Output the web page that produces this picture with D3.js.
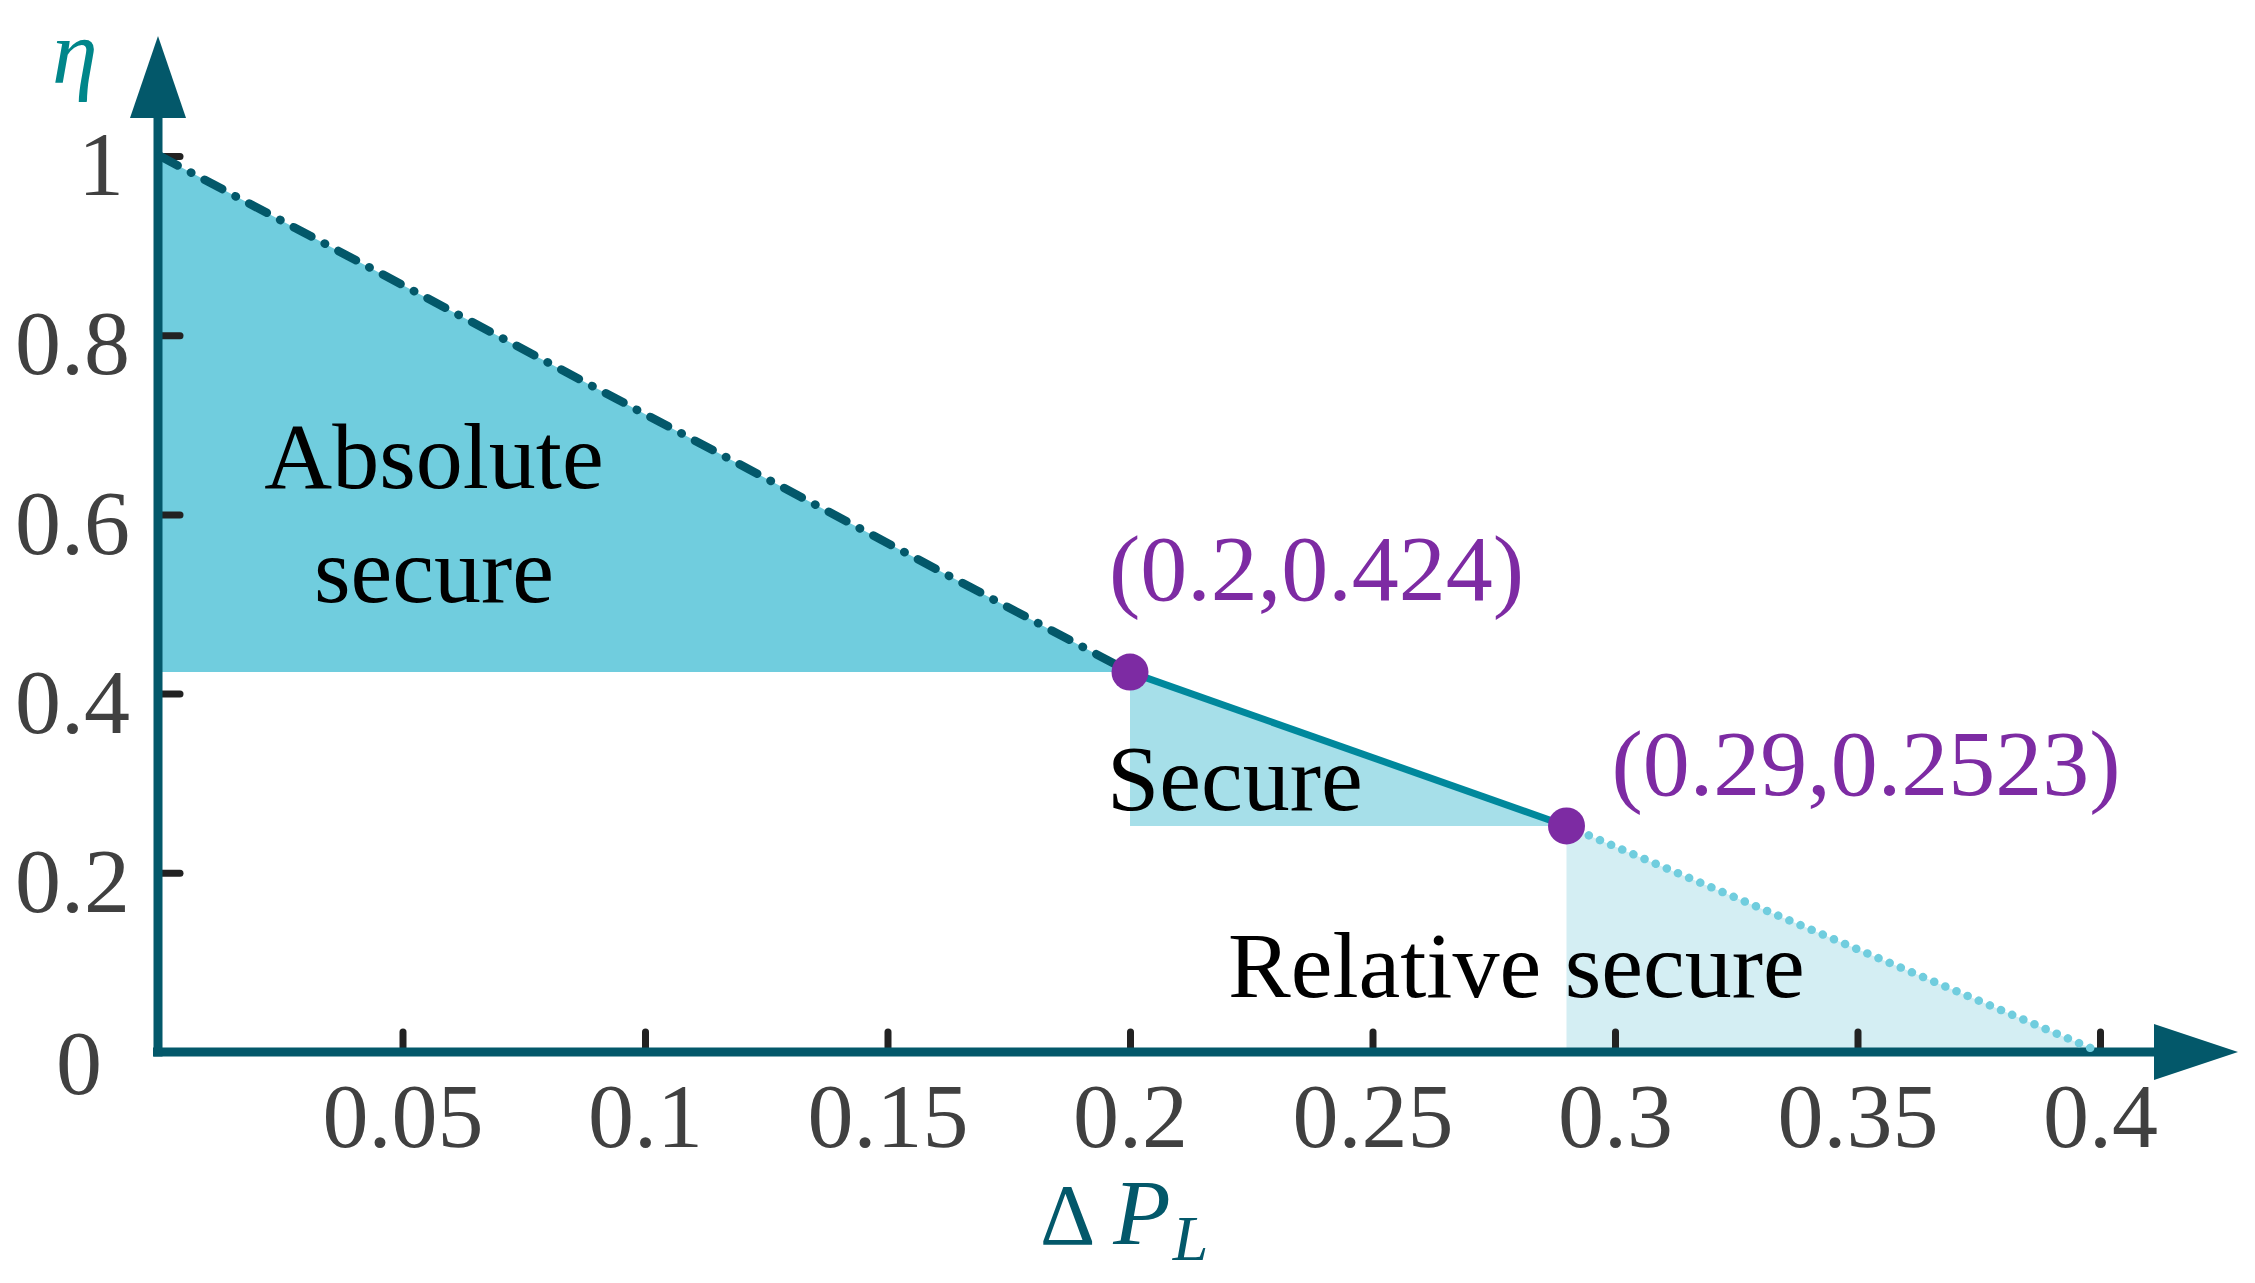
<!DOCTYPE html>
<html>
<head>
<meta charset="utf-8">
<script src="https://cdn.jsdelivr.net/npm/d3@7"></script>
<style>
  html, body { margin: 0; padding: 0; background: #ffffff; }
  svg { display: block; }
  text { font-family: "Liberation Serif", "Times New Roman", serif; }
</style>
</head>
<body>
<svg id="chart" width="2255" height="1283"></svg>
<script>
// ---- data ----
const xTickValues = [0.05, 0.1, 0.15, 0.2, 0.25, 0.3, 0.35, 0.4];
const xTickLabels = ["0.05", "0.1", "0.15", "0.2", "0.25", "0.3", "0.35", "0.4"];
const yTickValues = [0, 0.2, 0.4, 0.6, 0.8, 1];
const yTickLabels = ["0", "0.2", "0.4", "0.6", "0.8", "1"];
const boundaryX = [0, 0.2, 0.29, 0.4];
const boundaryY = [1, 0.424, 0.2523, 0];
const regionNames = ["Absolute secure", "Secure", "Relative secure"];
const keyPointLabels = ["(0.2,0.424)", "(0.29,0.2523)"];

// ---- styles ----
const W = 2255, H = 1283;
const axisColor = "#03586A";
const tickColor = "#222222";
const labelColor = "#404040";
const regionFill = ["#70CDDE", "#A6DFE9", "#D4EEF3"];
const lineColor = ["#03586A", "#00889C", "#70CDDE"];
const pointColor = "#7D2BA3";

const svg = d3.select("#chart");
svg.append("rect").attr("width", W).attr("height", H).attr("fill", "#fff");

const x = d3.scaleLinear().domain([0, 0.4]).range([160, 2100]);
const y = d3.scaleLinear().domain([0, 1]).range([1052, 156]);

const pts = boundaryX.map((bx, i) => [bx, boundaryY[i]]);

// ---- region fills ----
const area = d3.line().x(d => x(d[0])).y(d => y(d[1]));
const regionPolys = [
  [pts[0], pts[1], [boundaryX[0], boundaryY[1]]],
  [pts[1], pts[2], [boundaryX[1], boundaryY[2]]],
  [pts[2], pts[3], [boundaryX[2], boundaryY[3]]]
];
svg.append("g").selectAll("path").data(regionPolys).join("path")
  .attr("d", d => area(d) + "Z")
  .attr("fill", (d, i) => regionFill[i]);

// ---- axes ----
const xAxis = d3.axisBottom(x).tickValues(xTickValues)
  .tickFormat((d, i) => xTickLabels[i]).tickSize(-20).tickPadding(30);
const gx = svg.append("g").attr("transform", `translate(0,${y(0)})`).call(xAxis);
gx.select(".domain").remove();
gx.selectAll(".tick line").attr("stroke", tickColor).attr("stroke-width", 7)
  .attr("stroke-linecap", "round");
gx.selectAll(".tick text").attr("fill", labelColor).attr("font-size", 92)
  .attr("font-family", "Liberation Serif, Times New Roman, serif");

const yAxis = d3.axisLeft(y).tickValues(yTickValues)
  .tickFormat((d, i) => yTickLabels[i]).tickSize(-22).tickPadding(28);
const gy = svg.append("g").attr("transform", `translate(158,0)`).call(yAxis);
gy.select(".domain").remove();
gy.selectAll(".tick line").attr("stroke", tickColor).attr("stroke-width", 7)
  .attr("stroke-linecap", "round")
  .attr("display", d => d === 0 ? "none" : null);
gy.selectAll(".tick text").attr("fill", labelColor).attr("font-size", 92)
  .attr("font-family", "Liberation Serif, Times New Roman, serif")
  .attr("dy", d => d === 0 ? "0.45em" : "0.42em")
  .attr("dx", d => d === 0 ? -28 : (d === 1 ? -6 : 0));

// axis lines with arrows
svg.append("line").attr("x1", 153).attr("x2", 2160).attr("y1", y(0)).attr("y2", y(0))
  .attr("stroke", axisColor).attr("stroke-width", 9);
svg.append("line").attr("x1", 158).attr("x2", 158).attr("y1", y(0) + 4.5).attr("y2", 112)
  .attr("stroke", axisColor).attr("stroke-width", 9);
svg.append("path").attr("d", `M2154,${y(0) - 28} L2238,${y(0)} L2154,${y(0) + 28} Z`)
  .attr("fill", axisColor);
svg.append("path").attr("d", `M130,118 L158,36 L186,118 Z`).attr("fill", axisColor);

// ---- boundary lines ----
const segs = [[pts[0], pts[1]], [pts[1], pts[2]], [pts[2], pts[3]]];
const dashes = ["20,15,0.5,15", null, "0.1,12"];
const widths = [8.5, 7, 8.5];
svg.append("g").selectAll("path").data(segs).join("path")
  .attr("d", d => area(d))
  .attr("fill", "none")
  .attr("stroke", (d, i) => lineColor[i])
  .attr("stroke-width", (d, i) => widths[i])
  .attr("stroke-linecap", (d, i) => i === 1 ? "butt" : "round")
  .attr("stroke-dasharray", (d, i) => dashes[i]);

// ---- key points ----
const keyPts = [pts[1], pts[2]];
svg.append("g").selectAll("circle").data(keyPts).join("circle")
  .attr("cx", d => x(d[0])).attr("cy", d => y(d[1])).attr("r", 18.5)
  .attr("fill", pointColor);

svg.append("g").selectAll("text").data(keyPts).join("text")
  .attr("x", (d, i) => x(d[0]) + (i === 0 ? -21 : 45))
  .attr("y", (d, i) => y(d[1]) - (i === 0 ? 72 : 31))
  .attr("font-size", 94).attr("fill", pointColor)
  .text((d, i) => keyPointLabels[i]);

// ---- region labels ----
const rl = svg.append("g").attr("font-size", 94).attr("fill", "#000");
const absWords = regionNames[0].split(" ");
rl.append("text").attr("x", 434).attr("y", 488).attr("text-anchor", "middle").text(absWords[0]);
rl.append("text").attr("x", 434).attr("y", 602).attr("text-anchor", "middle").text(absWords[1]);
rl.append("text").attr("x", 1107).attr("y", 810).text(regionNames[1]);
rl.append("text").attr("x", 1228).attr("y", 997).text(regionNames[2]);

// ---- axis titles ----
svg.append("text").attr("x", 52).attr("y", 83).attr("font-size", 92)
  .attr("font-style", "italic").attr("fill", "#00868A").text("η");

const xt = svg.append("text").attr("x", 1040).attr("y", 1244).attr("fill", axisColor);
xt.append("tspan").attr("font-size", 86).text("Δ");
xt.append("tspan").attr("font-size", 94).attr("font-style", "italic").attr("dx", 18).text("P");
xt.append("tspan").attr("font-size", 64).attr("font-style", "italic").attr("dy", 16).attr("dx", 2).text("L");
</script>
</body>
</html>
